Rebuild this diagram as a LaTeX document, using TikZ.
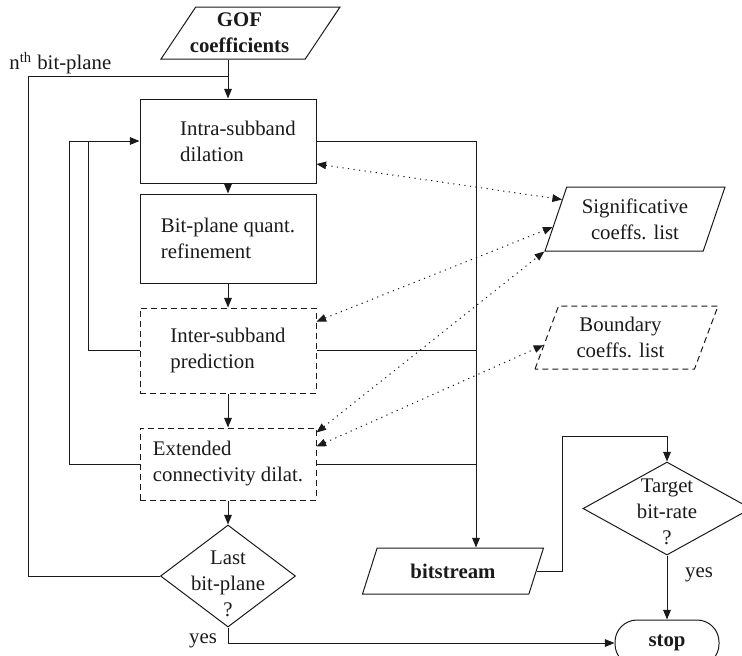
\documentclass[tikz,border=0pt]{standalone}
\usepackage{fontspec}
\setmainfont{Liberation Serif}
\usepackage{xcolor}
\usepackage{tikz}
\usetikzlibrary{shapes.geometric,arrows.meta,calc}
\definecolor{FCInk}{HTML}{1A1A1A}
\newcommand{\fcfont}{\fontsize{10.4pt}{13pt}\selectfont}

\begin{document}
\begin{tikzpicture}[x=0.5pt,y=-0.5pt,
  >={Triangle[length=4.8pt,width=3.8pt]},
  every node/.style={font=\fcfont,text=FCInk},
  link/.style={draw=FCInk,line width=.5pt},
  dots/.style={link,<->,dash pattern=on .6pt off 2.2pt},
  box/.style={rectangle,draw=FCInk,line width=.5pt,inner sep=0pt,align=left,minimum width=88pt},
  dbox/.style={box,dash pattern=on 3pt off 2pt},
  io/.style={trapezium,draw=FCInk,line width=.5pt,inner sep=0pt,align=center,trapezium stretches body},
  dec/.style={diamond,draw=FCInk,line width=.5pt,inner sep=0pt},
  dectxt/.style={align=center,font=\fcfont,text=FCInk},
  term/.style={rectangle,rounded corners=11pt,draw=FCInk,line width=.5pt,minimum width=52pt,minimum height=23pt,font=\fcfont\bfseries}]
\useasboundingbox (0,0) rectangle (742,655);

\node[io,inner xsep=-9pt,trapezium left angle=49,trapezium right angle=131,minimum width=89.5pt,minimum height=26pt,font=\fcfont\bfseries] (gof) at (250.5,33) {GOF\hspace*{11pt}\\coefficients\hspace*{11pt}};
\node[box,minimum height=42pt] (intra) at (228,141) {\hspace*{10pt}Intra-subband\\\hspace*{10pt}dilation};
\node[box,minimum height=44.5pt] (bitq) at (228,238.5) {Bit-plane quant.\\refinement};
\node[dbox,minimum height=42.5pt] (inter) at (228,350.5) {Inter-subband\\prediction};
\node[dbox,minimum height=36pt] (ext) at (228,464) {Extended\\connectivity dilat.};
\node[dec,minimum width=67.5pt,minimum height=51pt,label={[dectxt,yshift=-4pt]center:{Last\\bit-plane\\?}}] (last) at (228,576) {};
\node[io,trapezium left angle=62,trapezium right angle=118,minimum width=90pt,minimum height=32pt] (sig) at (635,219) {Significative\\coeffs. list};
\node[io,dash pattern=on 3pt off 2pt,trapezium left angle=60,trapezium right angle=120,minimum width=91.5pt,minimum height=31.5pt] (bnd) at (626.5,337.5) {Boundary\hspace*{6pt}\\coeffs. list\hspace*{6pt}};
\node[io,trapezium left angle=45,trapezium right angle=135,minimum width=90.5pt,minimum height=23pt,font=\fcfont\bfseries] (bits) at (453,571) {bitstream};
\node[dec,minimum width=84pt,minimum height=46.5pt,label={[dectxt,yshift=-1.5pt]center:{Target\\bit-rate\\?}}] (target) at (667,508.5) {};
\node[term] (stop) at (667,643) {stop};
\node[anchor=west,inner sep=0pt] (nth) at (9,63) {n\textsuperscript{th} bit-plane};
\node[inner sep=0pt] (yes1) at (203,641) {yes};
\node[inner sep=0pt] (yes2) at (699,575) {yes};

\coordinate (ret1) at (88,141);
\coordinate (ret2) at (69,141);
\coordinate (ret3) at (28,76);
\coordinate (bus) at (476,141);
\coordinate (up) at (562,436);

\draw[link,->] (intra.north |- gof.south) -- (intra.north);
\draw[link,->] (intra.south) -- (bitq.north);
\draw[link,->] (bitq.south) -- (inter.north);
\draw[link,->] (inter.south) -- (ext.north);
\draw[link,->] (ext.south) -- (last.north);
\draw[link] (inter.west) -| (ret1);
\draw[link,->] (ext.west) -| (ret2) -- (intra.west);
\draw[link] (last.west) -| (ret3) -- (ret3 -| intra.north);
\draw[link] (intra.east) -- (bus);
\draw[link,->] (bus) -- (bus |- bits.north);
\draw[link] (inter.east) -- (inter.east -| bus);
\draw[link] (ext.east) -- (ext.east -| bus);
\draw[link,->] ($(bits.top right corner)!.5!(bits.bottom right corner)$) -| (up) -| (target.north);
\draw[link,->] (target.south) -- (stop.north);
\draw[link,->] (last.south) |- (stop.west);

\draw[dots] ($(intra.east)+(0,23)$) -- ($(sig.bottom left corner)!.8!(sig.top left corner)$);
\draw[dots] ($(inter.north east)+(0,14)$) -- ($(sig.bottom left corner)!.375!(sig.top left corner)$);
\draw[dots] ($(ext.north east)+(0,5)$) -- (sig.bottom left corner);
\draw[dots] ($(ext.north east)+(0,19)$) -- ($(bnd.bottom left corner)!.38!(bnd.top left corner)$);
\end{tikzpicture}
\end{document}
